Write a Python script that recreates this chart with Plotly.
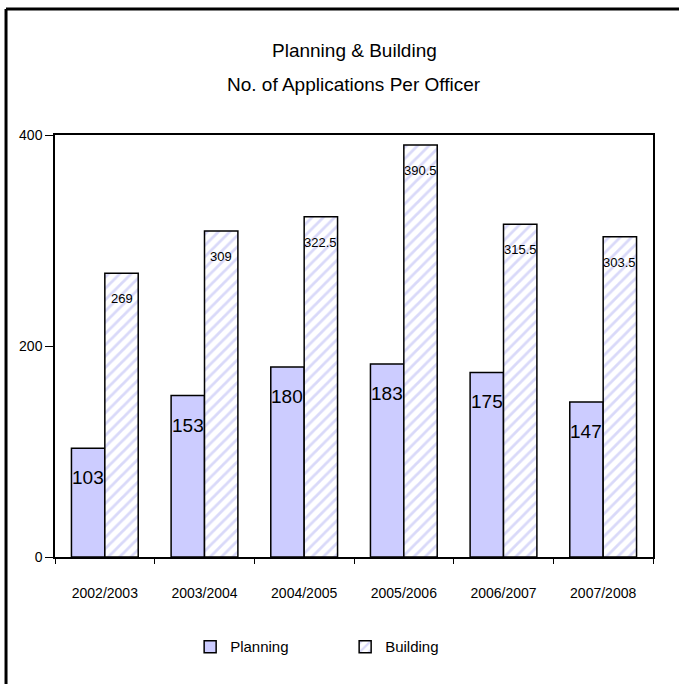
import plotly.graph_objects as go

categories = ["2002/2003", "2003/2004", "2004/2005", "2005/2006", "2006/2007", "2007/2008"]
planning = [103, 153, 180, 183, 175, 147]
building = [269, 309, 322.5, 390.5, 315.5, 303.5]
y_ticks = [0, 200, 400]
title_lines = ["Planning & Building", "No. of Applications Per Officer"]

FONT = "Liberation Sans, Arial, sans-serif"
BAR_HALF_PX = 16.7  # half of a bar's width, used to place value labels over each bar

fig = go.Figure()
fig.add_trace(go.Bar(
    name="Planning", x=categories, y=planning,
    marker=dict(color="#CCCCFF", line=dict(color="black", width=1.5)),
))
fig.add_trace(go.Bar(
    name="Building", x=categories, y=building,
    marker=dict(color="white", line=dict(color="black", width=1.5),
                pattern=dict(shape="/", fgcolor="#B4B4F4", bgcolor="white", size=8, solidity=0.35)),
))

# value labels inside the top of each bar
for c, v in zip(categories, planning):
    fig.add_annotation(x=c, y=v, text="%g" % v, showarrow=False, xshift=-BAR_HALF_PX,
                       yanchor="top", yshift=-17, font=dict(family=FONT, size=19, color="black"))
for c, v in zip(categories, building):
    fig.add_annotation(x=c, y=v, text="%g" % v, showarrow=False, xshift=BAR_HALF_PX,
                       yanchor="top", yshift=-16, font=dict(family=FONT, size=13, color="black"))

# two-line title
fig.add_annotation(xref="paper", yref="paper", x=0.5, y=1.2014, text=title_lines[0], showarrow=False,
                   xanchor="center", yanchor="middle", font=dict(family=FONT, size=19, color="black"))
fig.add_annotation(xref="paper", yref="paper", x=0.5, y=1.1185, text=title_lines[1], showarrow=False,
                   xanchor="center", yanchor="middle", font=dict(family=FONT, size=19, color="black"))

fig.update_layout(
    width=679, height=684,
    margin=dict(l=55, r=26, t=135, b=127, autoexpand=False),
    paper_bgcolor="white", plot_bgcolor="white",
    barmode="group", bargap=0.33, bargroupgap=0,
    font=dict(family=FONT, size=14, color="black"),
    showlegend=True,
    legend=dict(orientation="h", x=0.226, xanchor="left", y=-0.213, yanchor="middle",
                font=dict(family=FONT, size=15, color="black"),
                entrywidth=110, entrywidthmode="pixels", traceorder="normal"),
)
fig.update_xaxes(showline=True, linecolor="black", linewidth=1.5, mirror=True, automargin=False,
                 ticks="outside", ticklen=5, tickcolor="black", tickson="boundaries",
                 ticklabelstandoff=22,
                 tickfont=dict(family=FONT, size=14, color="black"), showgrid=False)
fig.update_yaxes(range=[0, 400], tickvals=y_ticks, showline=True, linecolor="black", linewidth=1.5,
                 mirror=True, ticks="outside", ticklen=8, tickcolor="black", automargin=False,
                 tickfont=dict(family=FONT, size=14, color="black"), showgrid=False, zeroline=False)

# outer frame (top and left edges visible in reference)
fig.add_shape(type="line", xref="paper", yref="paper", x0=-0.0819, x1=1.1, y0=1.2985, y1=1.2985,
              line=dict(color="black", width=3))
fig.add_shape(type="line", xref="paper", yref="paper", x0=-0.0819, x1=-0.0819, y0=1.2985, y1=-0.35,
              line=dict(color="black", width=3))

fig.write_html("out.html", config={"displayModeBar": False},
               post_script="document.body.style.margin='0';")
